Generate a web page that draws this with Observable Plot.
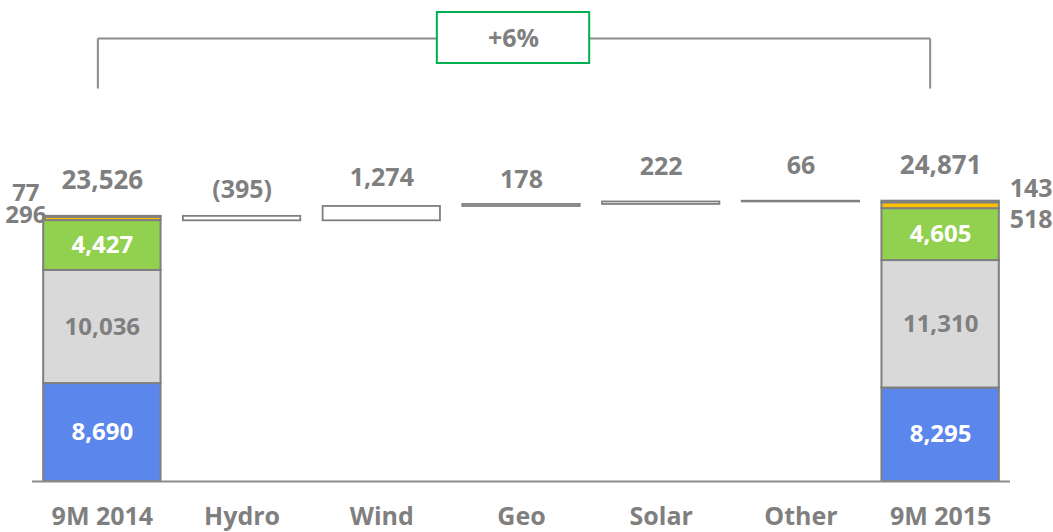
<!DOCTYPE html>
<html><head><meta charset="utf-8">
<script src="https://cdn.jsdelivr.net/npm/d3@7"></script>
<script src="https://cdn.jsdelivr.net/npm/@observablehq/plot@0.6"></script>
<style>
body{margin:0;background:#fff}
svg{font-family:"Open Sans",sans-serif}
</style>
</head><body><div id="chart"></div>
<script>
// ---- data ----
const categories = ["9M 2014","Hydro","Wind","Geo","Solar","Other","9M 2015"];
const startLabel = "9M 2014";
const endLabel = "9M 2015";
const start2014 = [8690, 10036, 4427, 296, 77];
const end2015 = [8295, 11310, 4605, 518, 143];
const deltaCategories = ["Hydro","Wind","Geo","Solar","Other"];
const deltas = [-395, 1274, 178, 222, 66];

// ---- styles ----
const segmentColors = ["#5b86ec", "#d9d9d9", "#92d050", "#ffc000", "#a6a6a6"];
const segmentTextColors = ["#ffffff", "#7f7f7f", "#ffffff"];
const gray = "#7f7f7f";
const fmt = d3.format(",");
const fmtDelta = v => v < 0 ? `(${fmt(-v)})` : fmt(v);

function stack(cat, values) {
  let acc = 0;
  return values.map((v, i) => {
    const r = {cat, i, v, y1: acc, y2: acc + v, fill: segmentColors[i]};
    acc += v;
    return r;
  });
}
const segs = [...stack(startLabel, start2014), ...stack(endLabel, end2015)];
const total2014 = d3.sum(start2014);
const total2015 = d3.sum(end2015);
const totals = [{cat: startLabel, v: total2014}, {cat: endLabel, v: total2015}];

let run = total2014;
const steps = deltaCategories.map((c, i) => {
  const y1 = run; run += deltas[i];
  return {cat: c, v: deltas[i], y1, y2: run, top: Math.max(y1, run)};
});

const change = d3.format("+.0%")(total2015 / total2014 - 1);

// layout constants (value units)
const yMax = 42680;
const bracketTop = 39300, bracketBottom = 34870;
const boxLow = 37090, boxHigh = 41615;

const inside = segs.filter(d => d.i < 3);
const outsideLeft = segs.filter(d => d.cat === startLabel && d.i >= 3);
const outsideRight = segs.filter(d => d.cat === endLabel && d.i >= 3);

// per-label vertical nudges (pixels)
const leftDy = [-1, -23];        // 296, 77
const rightDy = [19, -12];       // 518, 143
const deltaDy = [-26, -28, -24, -35, -35];

function nudge(offsets) {
  return (index, scales, values, dims, ctx, next) => {
    const g = next(index, scales, values, dims, ctx);
    d3.select(g).selectAll("text").each(function(_, j) {
      const el = d3.select(this);
      el.attr("transform", (el.attr("transform") || "") + ` translate(0,${offsets[index[j]]})`);
    });
    return g;
  };
}

const big = 26, mid = 25, small = 24;
const txt = {fill: gray, fontWeight: 700};
const line = {stroke: "#8c8c8c", strokeWidth: 2};

const chart = Plot.plot({
  width: 1053, height: 532,
  marginLeft: 32, marginRight: 43, marginTop: 0, marginBottom: 51,
  x: {domain: categories, paddingInner: 0.16, paddingOuter: 0.08, round: false, axis: null},
  y: {domain: [0, yMax], axis: null},
  marks: [
    // bracket
    Plot.link([startLabel], {x1: d => d, x2: d => d, y1: () => bracketBottom, y2: () => bracketTop, dx: -4.5, ...line}),
    Plot.link([endLabel], {x1: d => d, x2: d => d, y1: () => bracketBottom, y2: () => bracketTop, dx: -10.5, ...line}),
    Plot.link([0], {x1: () => startLabel, x2: () => "Geo", y1: () => bracketTop, y2: () => bracketTop, dx: -4.5, ...line}),
    Plot.link([0], {x1: () => "Geo", x2: () => endLabel, y1: () => bracketTop, y2: () => bracketTop, dx: -10.5, ...line}),
    Plot.barY(["Geo"], {x: d => d, y1: () => boxLow, y2: () => boxHigh, dx: -8, insetLeft: -17.5, insetRight: -17.5, fill: "white", stroke: "#00b050", strokeWidth: 2}),
    Plot.text([change], {x: () => "Geo", y: () => bracketTop, dx: -8, text: d => d, fontSize: mid, ...txt}),
    // stacked totals
    Plot.barY(segs, {x: "cat", y1: "y1", y2: "y2", fill: "fill", stroke: gray, strokeWidth: 2}),
    Plot.text(inside, {x: "cat", y: d => (d.y1 + d.y2) / 2, text: d => fmt(d.v), fontSize: small, fontWeight: 700, fill: d => segmentTextColors[d.i]}),
    Plot.text(outsideLeft, {x: "cat", y: () => total2014, text: d => fmt(d.v), fontSize: 24, ...txt, dx: -76.5, render: nudge(leftDy)}),
    Plot.text(outsideRight, {x: "cat", y: () => total2015, text: d => fmt(d.v), fontSize: mid, ...txt, dx: 90.5, render: nudge(rightDy)}),
    Plot.text(totals, {x: "cat", y: "v", text: d => fmt(d.v), dy: -36, fontSize: big, ...txt}),
    // deltas
    Plot.barY(steps, {x: "cat", y1: "y1", y2: "y2", fill: "white", stroke: gray, strokeWidth: 1.8}),
    Plot.text(steps, {x: "cat", y: "top", text: d => fmtDelta(d.v), fontSize: mid, ...txt, render: nudge(deltaDy)}),
    // baseline
    Plot.ruleY([0], line),
    // category labels
    Plot.text(categories, {x: d => d, frameAnchor: "bottom", lineAnchor: "middle", dy: 35, text: d => d, fontSize: 25, ...txt})
  ]
});

document.getElementById("chart").appendChild(chart);
</script>
</body></html>
